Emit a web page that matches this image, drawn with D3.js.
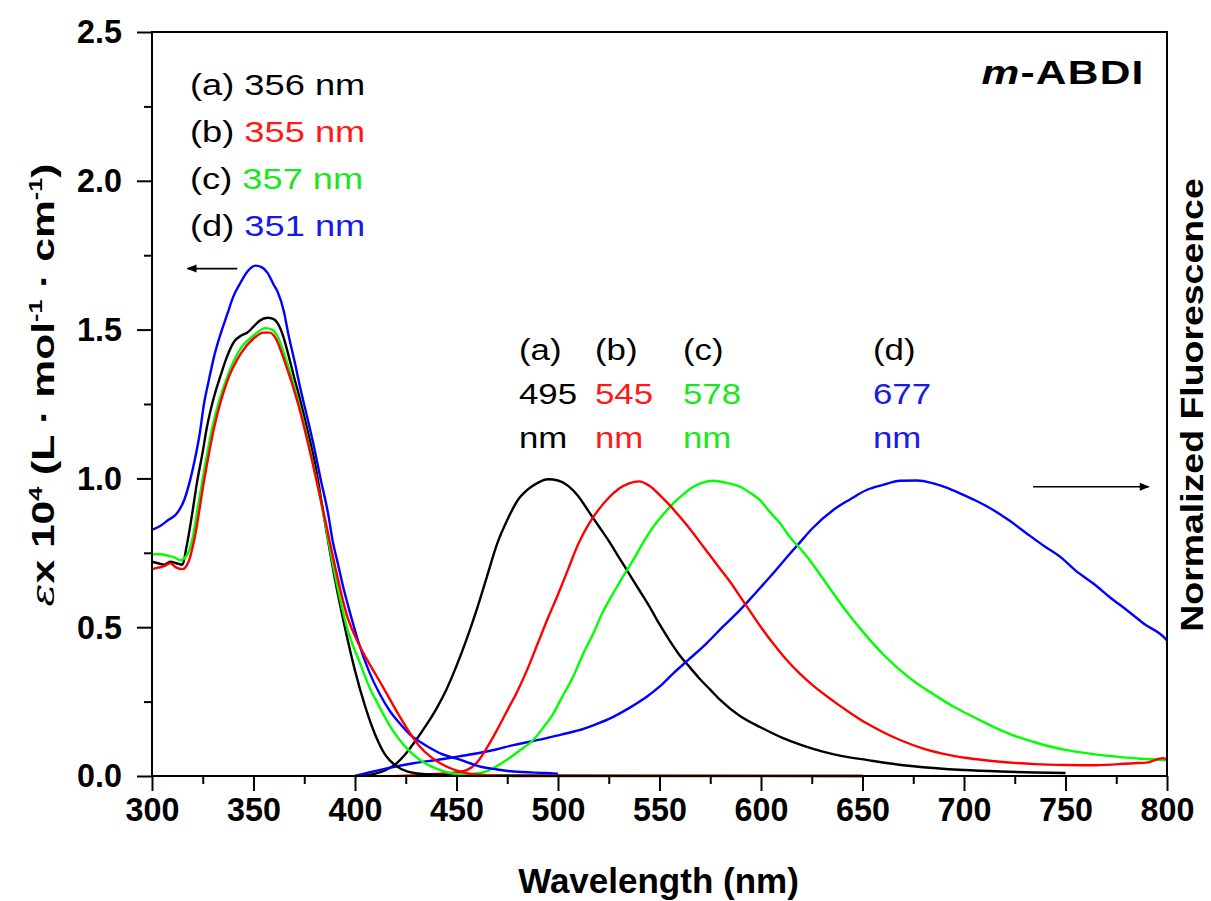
<!DOCTYPE html>
<html lang="en">
<head>
    <meta charset="UTF-8">
    <script src="https://d3js.org/d3.v7.min.js"></script>
    <style>
        body {
            margin: 0;
            background: #fff;
            font-family: Arial, "Liberation Sans", sans-serif;
        }
        .tick text {
            font-family: Arial, "Liberation Sans", sans-serif;
            font-weight: bold;
            font-size: 34px;
            fill: #000;
        }
        .tick line {
            stroke: #000;
            stroke-width: 2px;
        }
        .curve {
            fill: none;
            stroke-width: 2.4px;
            stroke-linejoin: round;
        }
        .note {
            font-family: Arial, "Liberation Sans", sans-serif;
            font-size: 29px;
        }
    </style>
</head>
<body>
    <div id="chart"></div>

    <script>
        // wavelength (nm), value
        const absA = [[300,0.72],[303,0.715],[306,0.71],[309,0.72],[312,0.715],[315,0.71],[317,0.77],[320,0.89],[322,0.98],[325,1.09],[327,1.17],[330,1.26],[334,1.35],[337,1.41],[340.5,1.46],[344,1.48],[347,1.49],[350,1.51],[353,1.53],[357,1.54],[360,1.535],[362,1.52],[365,1.47],[367,1.42],[370,1.34],[373.5,1.25],[377,1.15],[380,1.06],[385,0.86],[390,0.665],[395,0.5],[400,0.354],[405,0.234],[410,0.138],[415,0.07],[420,0.035],[426,0.015],[435,0.006],[450,0.002],[650,0]];
        const absB = [[300,0.695],[303,0.7],[306,0.705],[309,0.715],[312,0.7],[315,0.695],[318,0.72],[321,0.8],[325.6,0.99],[330.6,1.17],[337,1.325],[343.8,1.42],[350,1.47],[355,1.49],[358,1.49],[361,1.47],[365,1.4],[372,1.25],[378.5,1.07],[385,0.87],[390,0.71],[396,0.54],[400,0.47],[406,0.39],[412,0.32],[417,0.26],[422,0.2],[427,0.145],[432,0.098],[437,0.066],[442,0.043],[447,0.026],[452,0.015],[457,0.007],[465,0.003],[480,0],[650,0]];
        const absC = [[300,0.745],[304,0.745],[308,0.74],[311,0.735],[314,0.725],[317,0.74],[320,0.8],[322.5,0.9],[325,1.0],[330,1.18],[337,1.34],[344,1.44],[350,1.48],[356,1.505],[359,1.5],[362,1.475],[365,1.42],[372,1.26],[379,1.06],[385,0.86],[390,0.68],[396,0.5],[403,0.37],[407,0.3],[412,0.233],[417,0.17],[422,0.121],[427,0.083],[432,0.054],[437,0.034],[442,0.02],[447,0.01],[452,0.005],[460,0.002],[480,0]];
        const absD = [[300,0.827],[304,0.84],[308,0.86],[312,0.88],[316,0.93],[319,1.0],[321,1.06],[323.5,1.15],[325.6,1.25],[328,1.33],[330.6,1.41],[334,1.49],[337,1.55],[340,1.61],[343.8,1.66],[347,1.695],[351,1.715],[354,1.71],[357,1.69],[360,1.65],[362,1.625],[365,1.56],[367,1.49],[370,1.4],[373.5,1.29],[377,1.19],[380,1.1],[383,1.0],[386.8,0.88],[389,0.79],[391.7,0.71],[394,0.64],[396.7,0.57],[401.7,0.45],[407,0.35],[412,0.278],[417,0.22],[422,0.177],[427,0.14],[432,0.115],[437,0.094],[442,0.076],[447,0.064],[452,0.054],[457,0.042],[462,0.031],[470,0.022],[478,0.015],[494,0.01],[500,0.008]];

        const emA = [[400,0],[405,0.003],[410,0.008],[415,0.02],[420,0.04],[425,0.075],[430,0.12],[435,0.17],[440,0.225],[445,0.29],[450,0.37],[455,0.46],[460,0.56],[465,0.67],[470,0.78],[475,0.86],[480,0.925],[485,0.962],[490,0.985],[495,0.997],[500,0.993],[505,0.975],[510,0.94],[515,0.89],[520,0.84],[525,0.79],[530,0.735],[535,0.68],[540,0.625],[545,0.57],[550,0.51],[555,0.455],[560,0.405],[565,0.365],[570,0.325],[575,0.29],[580,0.255],[590,0.2],[600,0.163],[610,0.13],[620,0.104],[630,0.083],[640,0.067],[652,0.054],[668,0.038],[685,0.027],[700,0.02],[718,0.015],[735,0.012],[750,0.01]];
        const emB = [[420,0],[430,0.003],[440,0.007],[447,0.01],[455,0.02],[460,0.045],[465,0.095],[470,0.155],[475,0.22],[480,0.285],[485,0.36],[490,0.445],[495,0.53],[500,0.61],[505,0.695],[510,0.78],[515,0.845],[520,0.895],[525,0.935],[530,0.965],[535,0.983],[540,0.99],[545,0.975],[550,0.945],[555,0.91],[560,0.871],[565,0.83],[570,0.785],[575,0.74],[580,0.695],[585,0.65],[590,0.6],[595,0.55],[600,0.5],[606,0.445],[612,0.395],[619,0.345],[626,0.302],[636,0.25],[644,0.212],[652,0.177],[660,0.148],[668.5,0.121],[680,0.092],[693,0.07],[705,0.057],[717.7,0.048],[735,0.04],[750.6,0.037],[765,0.036],[783.4,0.043],[790,0.045],[798,0.06],[800,0.055]];
        const emC = [[430,0],[445,0.003],[455,0.006],[463,0.012],[469,0.03],[474.7,0.054],[481,0.085],[487.8,0.121],[493,0.165],[497.7,0.21],[502,0.265],[507.5,0.334],[512,0.405],[517.4,0.479],[522,0.55],[527.2,0.614],[532,0.67],[537.1,0.726],[542,0.785],[547,0.838],[552,0.88],[556.8,0.916],[562,0.948],[566.7,0.972],[571,0.985],[576.5,0.992],[583,0.985],[589.7,0.972],[595,0.95],[599.5,0.927],[604,0.89],[609.4,0.849],[614,0.805],[619.2,0.765],[624,0.725],[629,0.678],[635.6,0.614],[643,0.545],[652,0.47],[660,0.41],[668.5,0.356],[676,0.315],[684.9,0.275],[693,0.24],[701.3,0.21],[710,0.18],[717.7,0.155],[726,0.132],[734.1,0.115],[742,0.1],[750.6,0.087],[762,0.075],[775.2,0.065],[787,0.058],[800,0.054]];
        const emD = [[400,0],[406,0.01],[412,0.02],[420,0.032],[428.7,0.043],[436,0.05],[445,0.059],[453,0.068],[461.6,0.078],[470,0.09],[478,0.104],[486,0.115],[494.4,0.127],[502,0.14],[510,0.153],[518,0.172],[527,0.198],[535,0.228],[543.7,0.266],[550,0.3],[556.8,0.345],[565,0.395],[573.2,0.446],[581,0.5],[589.7,0.558],[598,0.62],[606,0.681],[614,0.745],[619.2,0.785],[625,0.83],[635.6,0.894],[644,0.93],[652,0.961],[660,0.978],[668.5,0.992],[677,0.993],[684.9,0.983],[691,0.97],[698,0.95],[706,0.925],[714.4,0.894],[722,0.86],[730.9,0.815],[739,0.775],[747.3,0.737],[755,0.69],[763.7,0.647],[772,0.6],[780.1,0.558],[789,0.51],[798.2,0.468],[800,0.455]];

        const seriesKeys = ["a", "b", "c", "d"];
        const absPeaks = ["356", "355", "357", "351"];
        const emPeaks = ["495", "545", "578", "677"];
        const colors = ["#000000", "#ff0000", "#00ff00", "#0000ff"];
        const textColors = ["#000000", "#ff1a1a", "#1ee61e", "#1a1ae6"];
        const xTicks = [300, 350, 400, 450, 500, 550, 600, 650, 700, 750, 800];
        const yTicks = [0, 0.5, 1.0, 1.5, 2.0, 2.5];

        const margin = {top: 32, right: 44, bottom: 125, left: 152},
            width = 1211 - margin.left - margin.right,
            height = 901 - margin.top - margin.bottom;

        const root = d3.select("#chart")
            .append("svg")
            .attr("width", width + margin.left + margin.right)
            .attr("height", height + margin.top + margin.bottom);

        const svg = root.append("g")
            .attr("transform", `translate(${margin.left},${margin.top})`);

        const x = d3.scaleLinear().domain([300, 800]).range([0, width]);
        const y = d3.scaleLinear().domain([0, 2.5]).range([height, 0]);

        const TS = 0.95; // tick label squeeze

        // curves
        const line = d3.line()
            .x(d => x(d[0]))
            .y(d => y(d[1]))
            .curve(d3.curveMonotoneX);

        const absSets = [absA, absB, absC, absD];
        const emSets = [emA, emB, emC, emD];
        const drawOrder = [0, 3, 2, 1];

        drawOrder.forEach(i => {
            svg.append("path").attr("class", "curve").attr("d", line(emSets[i])).attr("stroke", colors[i]);
        });
        drawOrder.forEach(i => {
            svg.append("path").attr("class", "curve").attr("d", line(absSets[i])).attr("stroke", colors[i]);
        });

        // x axis, major + minor
        const xAxis = svg.append("g")
            .attr("transform", `translate(0,${height})`)
            .call(d3.axisBottom(x).tickValues(xTicks).tickSize(15).tickPadding(6).tickFormat(d3.format("d")));
        xAxis.select(".domain").remove();
        xAxis.selectAll("text").attr("transform", `scale(${TS},1)`);

        const xMinor = svg.append("g")
            .attr("transform", `translate(0,${height})`)
            .call(d3.axisBottom(x).tickValues(d3.range(325, 800, 50)).tickSize(8).tickFormat(""));
        xMinor.select(".domain").remove();

        // y axis, major + minor
        const yAxis = svg.append("g")
            .call(d3.axisLeft(y).tickValues(yTicks).tickSize(15).tickPadding(15).tickFormat(d3.format(".1f")));
        yAxis.select(".domain").remove();
        yAxis.selectAll("text")
            .attr("x", -30 / TS)
            .attr("transform", `scale(${TS},1)`);

        const yMinor = svg.append("g")
            .call(d3.axisLeft(y).tickValues(d3.range(0.25, 2.5, 0.5)).tickSize(8).tickFormat(""));
        yMinor.select(".domain").remove();

        // frame
        svg.append("rect")
            .attr("x", 0).attr("y", 0)
            .attr("width", width).attr("height", height)
            .attr("fill", "none")
            .attr("stroke", "#000")
            .attr("stroke-width", 2);

        // absorption legend, top left
        seriesKeys.forEach((k, i) => {
            const t = svg.append("text")
                .attr("class", "note")
                .attr("transform", `translate(${190 - margin.left},${95 + i * 47 - margin.top}) scale(1.25,1)`);
            t.append("tspan").attr("fill", "#000").text(`(${k}) `);
            t.append("tspan").attr("fill", textColors[i]).text(`${absPeaks[i]} nm`);
        });

        // emission labels
        const emLabelX = [519, 595, 683, 873];
        seriesKeys.forEach((k, i) => {
            const g = svg.append("g")
                .attr("transform", `translate(${emLabelX[i] - margin.left},0)`);
            g.append("text").attr("class", "note").attr("fill", "#000")
                .attr("transform", `translate(0,${360 - margin.top}) scale(1.2,1)`)
                .text(`(${k})`);
            g.append("text").attr("class", "note").attr("fill", textColors[i])
                .attr("transform", `translate(0,${404 - margin.top}) scale(1.2,1)`)
                .text(emPeaks[i]);
            g.append("text").attr("class", "note").attr("fill", textColors[i])
                .attr("transform", `translate(0,${448 - margin.top}) scale(1.2,1)`)
                .text("nm");
        });

        // arrows
        root.append("defs").append("marker")
            .attr("id", "head")
            .attr("viewBox", "0 0 10 10")
            .attr("refX", 9).attr("refY", 5)
            .attr("markerWidth", 16).attr("markerHeight", 10)
            .attr("markerUnits", "userSpaceOnUse")
            .attr("orient", "auto")
            .append("path")
            .attr("d", "M0,1 L10,5 L0,9 Z")
            .attr("fill", "#000");

        svg.append("line")
            .attr("x1", x(342)).attr("x2", x(317.5))
            .attr("y1", y(1.705)).attr("y2", y(1.705))
            .attr("stroke", "#000").attr("stroke-width", 1.6)
            .attr("marker-end", "url(#head)");
        svg.append("line")
            .attr("x1", x(734)).attr("x2", x(791))
            .attr("y1", y(0.972)).attr("y2", y(0.972))
            .attr("stroke", "#000").attr("stroke-width", 1.6)
            .attr("marker-end", "url(#head)");

        // compound name
        const title = svg.append("text")
            .attr("text-anchor", "end")
            .attr("transform", `translate(${x(789)},${84 - margin.top}) scale(1.25,1)`)
            .style("font-size", "34px")
            .style("font-weight", "bold")
            .style("letter-spacing", "1px");
        title.append("tspan").style("font-style", "italic").text("m");
        title.append("tspan").text("-ABDI");

        // axis titles
        root.append("text")
            .attr("text-anchor", "middle")
            .attr("transform", `translate(${margin.left + width / 2 - 1},893)`)
            .style("font-size", "35px")
            .style("font-weight", "bold")
            .text("Wavelength (nm)");

        root.append("text")
            .attr("text-anchor", "middle")
            .attr("transform", `translate(1203,405) rotate(-90) scale(1.17,1)`)
            .style("font-size", "32px")
            .style("font-weight", "bold")
            .text("Normalized Fluorescence");

        const yTitle = root.append("text")
            .attr("text-anchor", "middle")
            .attr("transform", `translate(54,385) rotate(-90) scale(1.33,1)`)
            .style("font-size", "32px")
            .style("font-weight", "bold");
        yTitle.append("tspan").style("font-style", "italic").style("font-weight", "normal")
            .style("font-family", "'DejaVu Serif', 'Liberation Serif', serif").text("ε");
        yTitle.append("tspan").text("x 10");
        yTitle.append("tspan").attr("dy", -12).style("font-size", "19px").text("4");
        yTitle.append("tspan").attr("dy", 12).text(" (L · mol");
        yTitle.append("tspan").attr("dy", -12).style("font-size", "19px").text("-1");
        yTitle.append("tspan").attr("dy", 12).text(" · cm");
        yTitle.append("tspan").attr("dy", -12).style("font-size", "19px").text("-1");
        yTitle.append("tspan").attr("dy", 12).text(")");
    </script>
</body>
</html>
